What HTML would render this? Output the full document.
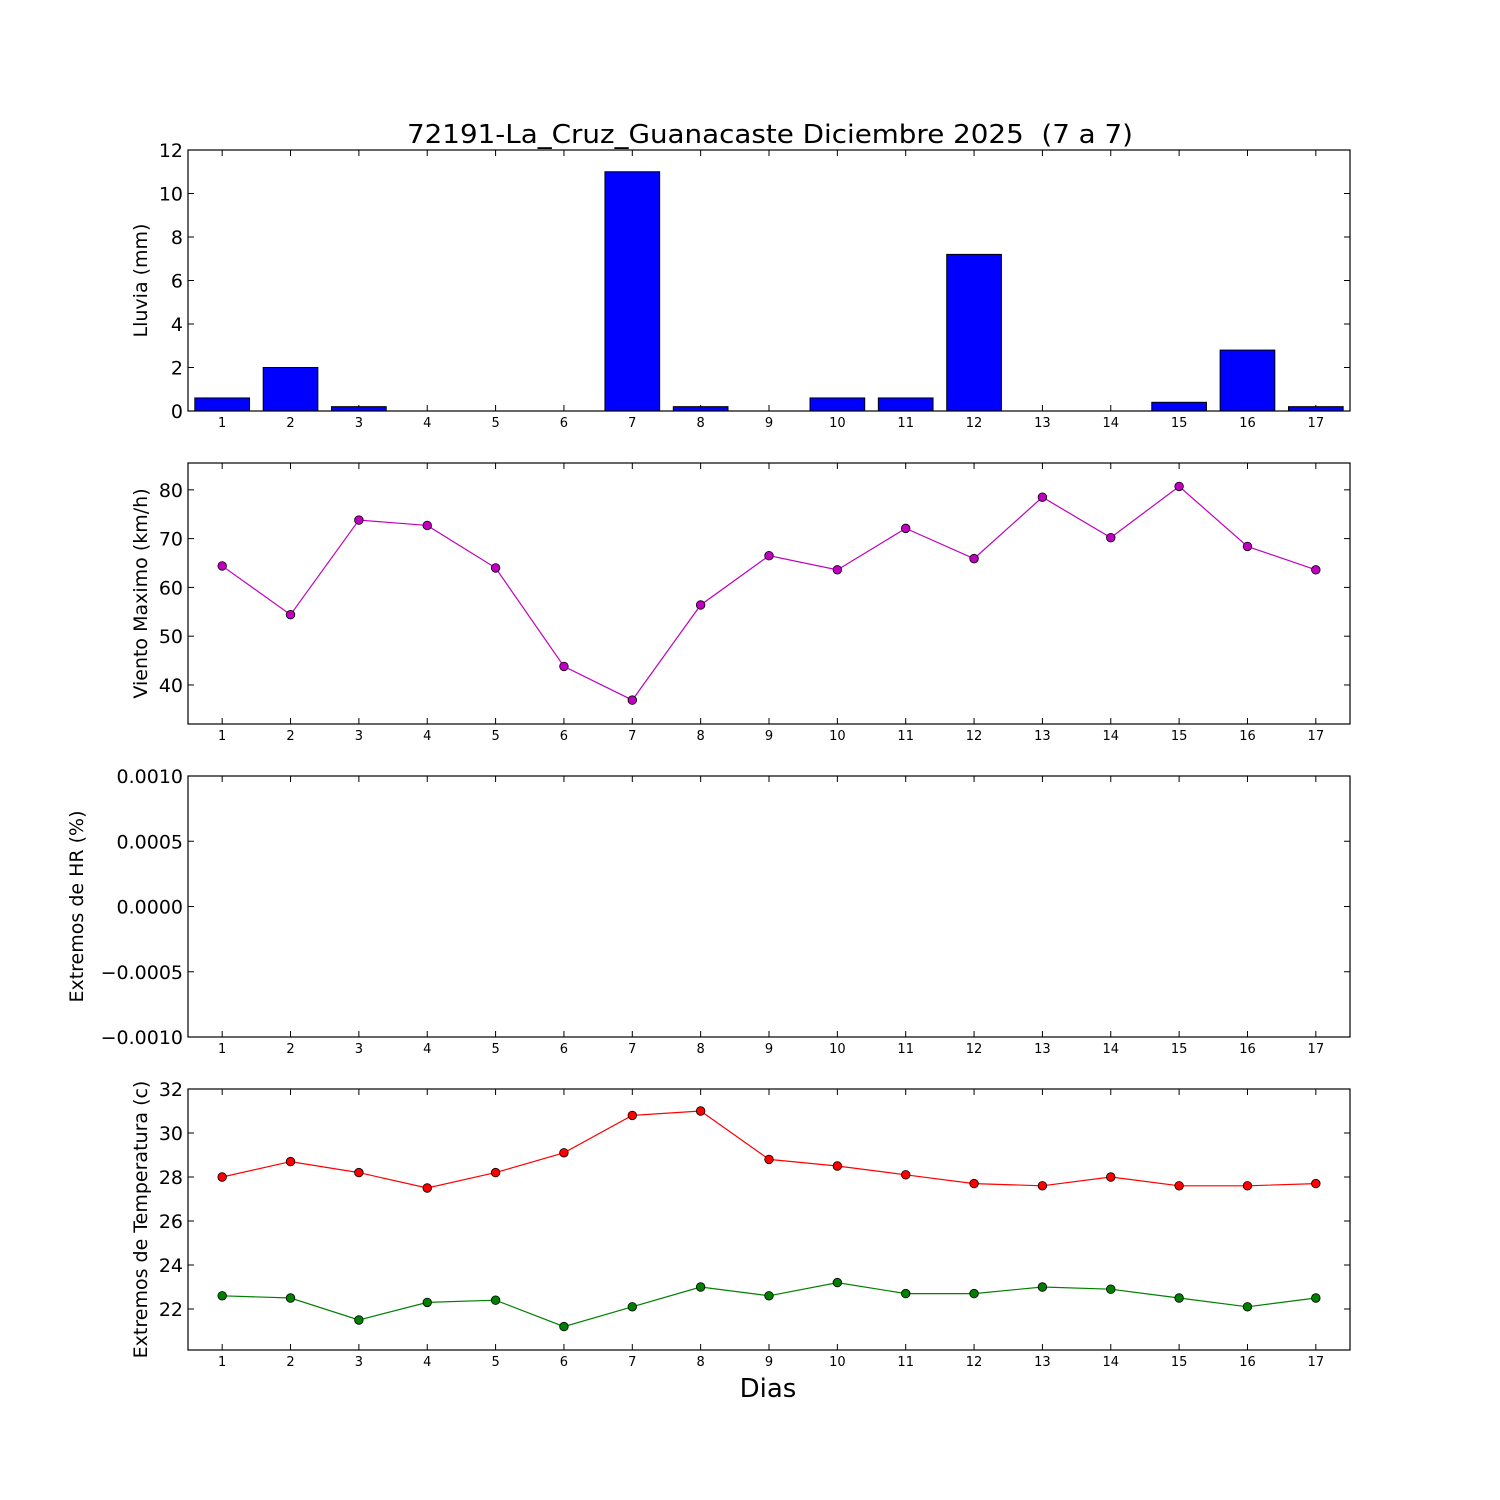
<!DOCTYPE html>
<html><head><meta charset="utf-8"><style>body{margin:0;background:#fff}svg{display:block}</style></head>
<body>
<svg id="s" width="1500" height="1500" xmlns="http://www.w3.org/2000/svg" font-family="DejaVu Sans, Liberation Sans, sans-serif"></svg>
<script>
const s=document.getElementById('s');let h='';
const X0=188,X1=1350;const xd=d=>X0+(d-0.5)*(X1-X0)/17;
h+=`<rect width="1500" height="1500" fill="#fff"/>`;
h+=`<text x="407" y="143" font-size="26" textLength="726" lengthAdjust="spacingAndGlyphs" xml:space="preserve">72191-La_Cruz_Guanacaste Diciembre 2025  (7 a 7)</text>`;
function panel(top,bot,ymin,ymax,ticks,fmt,label){
  const Y=v=>bot-(v-ymin)/(ymax-ymin)*(bot-top);
  for(let d=1;d<=17;d++){const x=xd(d);
    h+=`<line x1="${x}" y1="${bot}" x2="${x}" y2="${bot-6}" stroke="#000"/><line x1="${x}" y1="${top}" x2="${x}" y2="${top+6}" stroke="#000"/>`;
    h+=`<text x="${x}" y="${bot+16}" font-size="13" text-anchor="middle">${d}</text>`;}
  for(const t of ticks){const y=Y(t);
    h+=`<line x1="${X0}" y1="${y}" x2="${X0+6}" y2="${y}" stroke="#000"/><line x1="${X1}" y1="${y}" x2="${X1-6}" y2="${y}" stroke="#000"/>`;
    h+=`<text x="${X0-5}" y="${y+7}" font-size="19" text-anchor="end">${fmt(t)}</text>`;}
  const cy=(top+bot)/2;
  h+=`<text transform="translate(${label[1]},${cy}) rotate(-90)" font-size="19" text-anchor="middle">${label[0]}</text>`;
  return Y;}
function frame(top,bot){h+=`<rect x="${X0}" y="${top}" width="${X1-X0}" height="${bot-top}" fill="none" stroke="#000" stroke-width="1.2"/>`;}
let Y=panel(150,411,0,12,[0,2,4,6,8,10,12],t=>t,['Lluvia (mm)',147]);
const rain=[0.6,2,0.2,0,0,0,11,0.2,0,0.6,0.6,7.2,0,0,0.4,2.8,0.2];
const bw=0.8*(X1-X0)/17;
rain.forEach((v,i)=>{const x=xd(i+1)-bw/2;h+=`<rect x="${x}" y="${Y(v)}" width="${bw}" height="${411-Y(v)}" fill="#0000ff" stroke="#000" stroke-width="1"/>`;});
frame(150,411);
Y=panel(463,724,32,85.5,[40,50,60,70,80],t=>t,['Viento Maximo (km/h)',147]);
function series(vals,col){let p=vals.map((v,i)=>`${xd(i+1)},${Y(v)}`).join(' ');
  h+=`<polyline points="${p}" fill="none" stroke="${col}" stroke-width="1.2"/>`;
  vals.forEach((v,i)=>{h+=`<circle cx="${xd(i+1)}" cy="${Y(v)}" r="4.3" fill="${col}" stroke="#000" stroke-width="0.8"/>`;});}
series([64.4,54.4,73.8,72.7,64,43.8,36.9,56.4,66.5,63.6,72.1,65.9,78.5,70.2,80.7,68.4,63.6],'#bf00bf');
frame(463,724);
Y=panel(776,1037,-0.001,0.001,[-0.001,-0.0005,0,0.0005,0.001],t=>(t<0?'\u2212':'')+Math.abs(t).toFixed(4),['Extremos de HR (%)',83]);
frame(776,1037);
Y=panel(1089,1350,22-41/22,32,[22,24,26,28,30,32],t=>t,['Extremos de Temperatura (c)',147]);
series([28,28.7,28.2,27.5,28.2,29.1,30.8,31,28.8,28.5,28.1,27.7,27.6,28,27.6,27.6,27.7],'#ff0000');
series([22.6,22.5,21.5,22.3,22.4,21.2,22.1,23,22.6,23.2,22.7,22.7,23,22.9,22.5,22.1,22.5],'#008000');
frame(1089,1350);
h+=`<text x="768" y="1397" font-size="26" text-anchor="middle">Dias</text>`;
s.innerHTML=h;
</script>
</body></html>
